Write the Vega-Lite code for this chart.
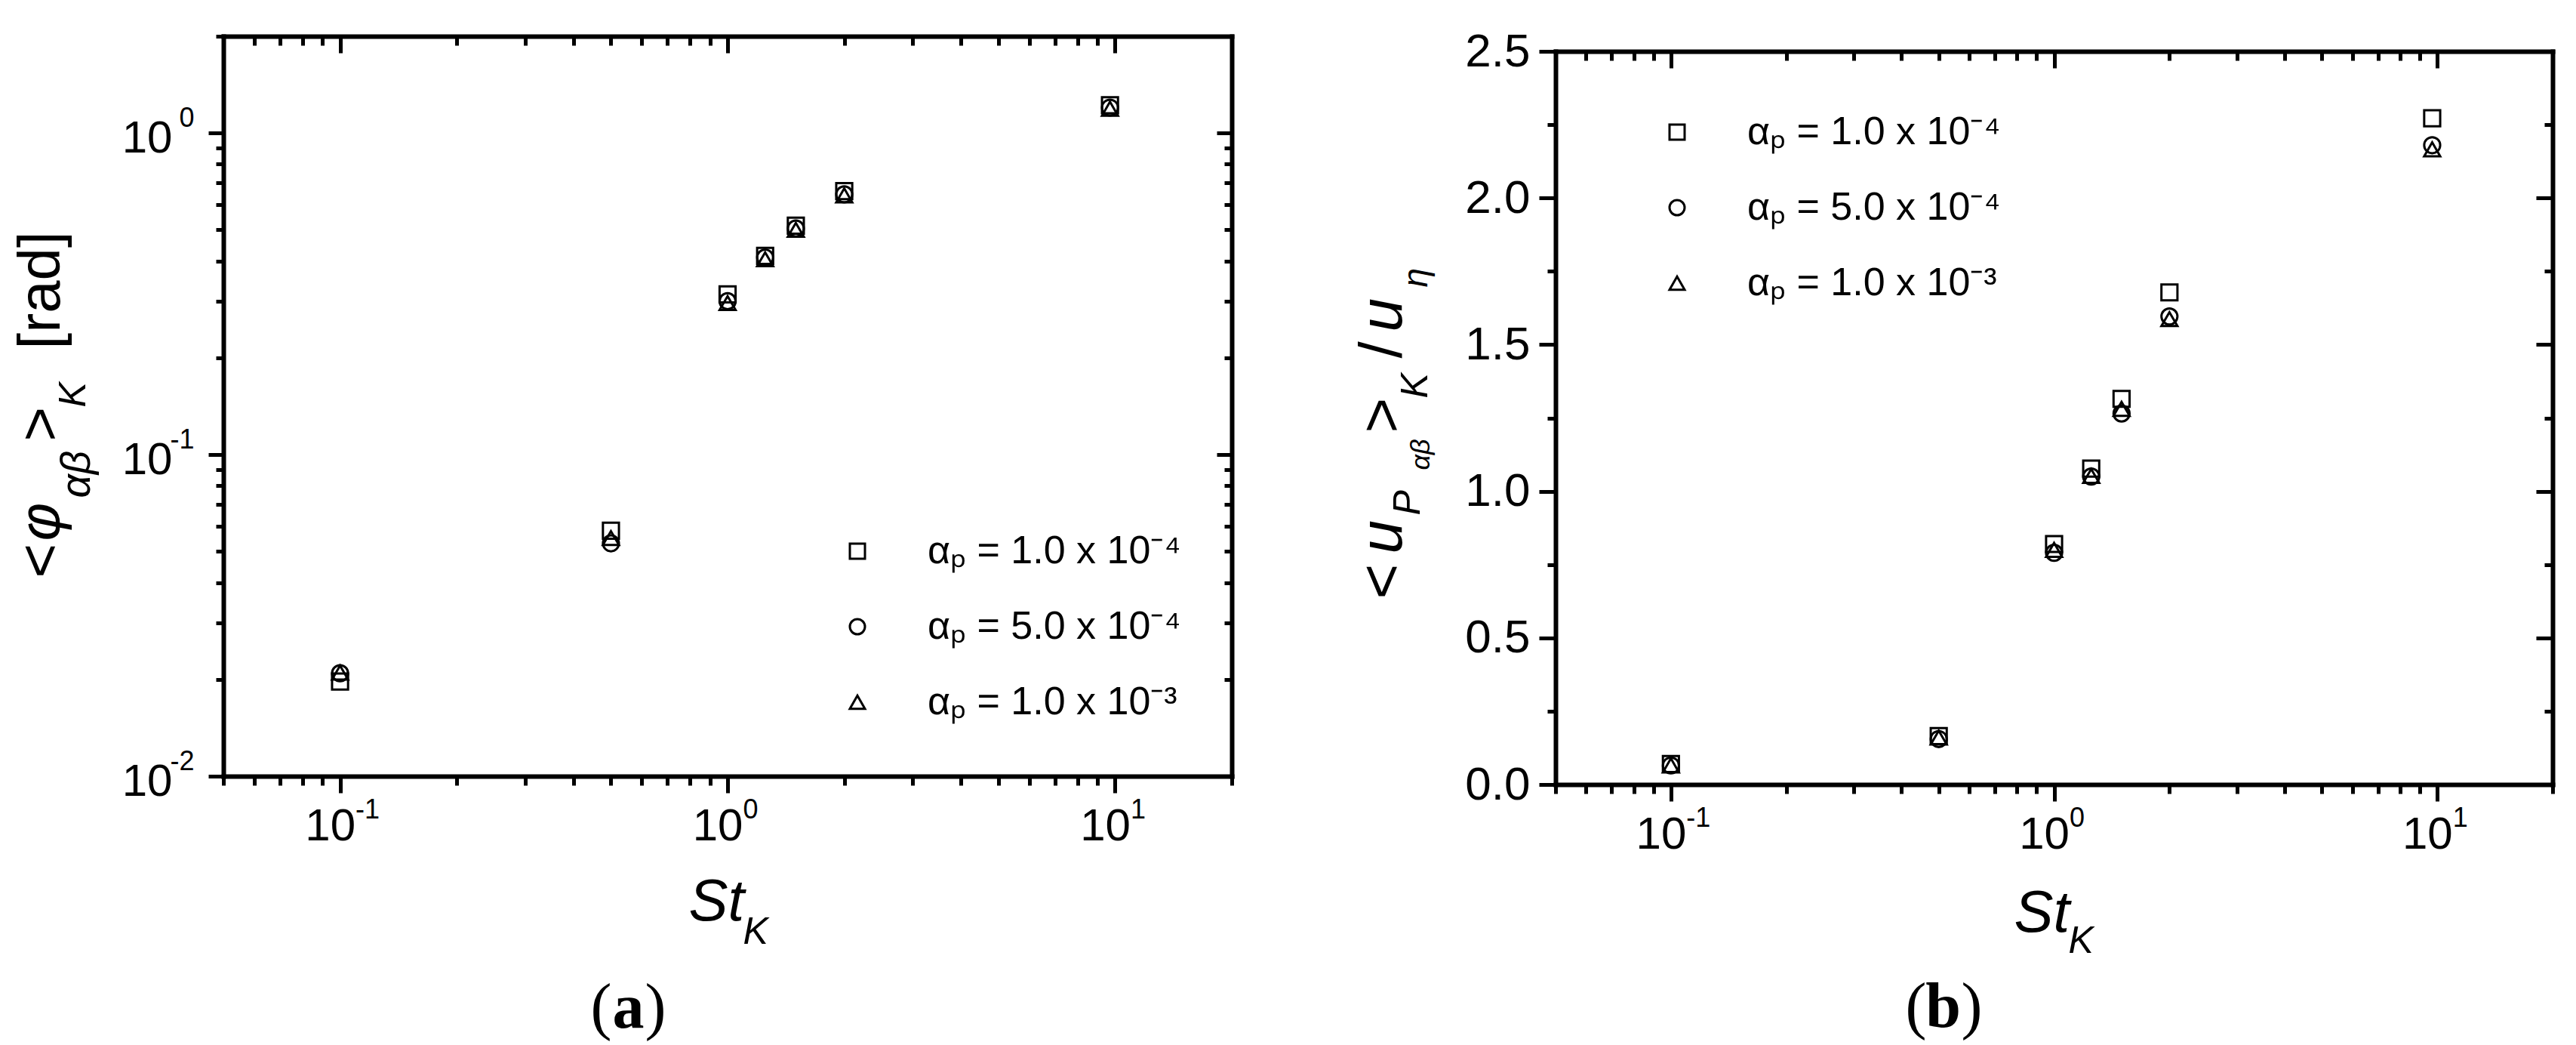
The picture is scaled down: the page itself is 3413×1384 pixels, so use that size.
{
  "$schema": "https://vega.github.io/schema/vega-lite/v6.json",
  "autosize": {"type": "pad"},
  "padding": {"left": 16, "top": 37, "right": 10, "bottom": 10},
  "background": "white",
  "config": {
    "view": {"stroke": null},
    "font": "Liberation Sans",
    "axis": {"grid": false, "domainColor": "#000", "domainWidth": 6, "domainCap": "square", "tickColor": "#000", "tickWidth": 5, "labelColor": "#000", "labelFont": "Liberation Sans", "titleColor": "#000", "titleFont": "Liberation Sans", "titleFontWeight": "normal", "labelFlush": false, "labelOverlap": false, "labelBound": false, "titlePadding": 0},
    "legend": {"labelFont": "Liberation Sans", "labelColor": "#000", "labelLimit": 1000}
  },
  "bounds": "flush",
  "spacing": 429,
  "resolve": {"scale": {"shape": "independent"}, "legend": {"shape": "independent"}},
  "hconcat": [
    {
      "width": 1336,
      "height": 980,
      "data": {"values": [
        {"St": 0.1, "v": 0.0197, "s": "1.0e-4"}, {"St": 0.1, "v": 0.0209, "s": "5.0e-4"}, {"St": 0.1, "v": 0.021, "s": "1.0e-3"},
        {"St": 0.5, "v": 0.058, "s": "1.0e-4"}, {"St": 0.5, "v": 0.053, "s": "5.0e-4"}, {"St": 0.5, "v": 0.055, "s": "1.0e-3"},
        {"St": 1.0, "v": 0.315, "s": "1.0e-4"}, {"St": 1.0, "v": 0.300, "s": "5.0e-4"}, {"St": 1.0, "v": 0.296, "s": "1.0e-3"},
        {"St": 1.25, "v": 0.415, "s": "1.0e-4"}, {"St": 1.25, "v": 0.410, "s": "5.0e-4"}, {"St": 1.25, "v": 0.405, "s": "1.0e-3"},
        {"St": 1.5, "v": 0.515, "s": "1.0e-4"}, {"St": 1.5, "v": 0.505, "s": "5.0e-4"}, {"St": 1.5, "v": 0.500, "s": "1.0e-3"},
        {"St": 2.0, "v": 0.660, "s": "1.0e-4"}, {"St": 2.0, "v": 0.645, "s": "5.0e-4"}, {"St": 2.0, "v": 0.640, "s": "1.0e-3"},
        {"St": 9.7, "v": 1.22, "s": "1.0e-4"}, {"St": 9.7, "v": 1.20, "s": "5.0e-4"}, {"St": 9.7, "v": 1.19, "s": "1.0e-3"}
      ]},
      "resolve": {"axis": {"x": "independent", "y": "independent"}},
      "layer": [
        {
          "mark": {"type": "point", "filled": false, "color": "black", "size": 450, "strokeWidth": 3, "opacity": 1},
          "encoding": {
            "x": {"field": "St", "type": "quantitative", "scale": {"type": "log", "domain": [0.05, 20], "nice": false},
              "axis": {"orient": "bottom", "values": [0.1, 1, 10], "tickSize": 22, "labelExpr": "'10'", "labelAlign": "right", "labelBaseline": "alphabetic", "labelOffset": 20, "labelPadding": 62, "labelFontSize": 60,
                "title": "St", "titleFontSize": 78, "titleFontStyle": "italic", "titleX": 616, "titleY": 190, "titleAlign": "left", "titleBaseline": "alphabetic", "titleAngle": 0}},
            "y": {"field": "v", "type": "quantitative", "scale": {"type": "log", "domain": [0.01, 2], "nice": false},
              "axis": {"orient": "left", "values": [0.01, 0.1, 1], "tickSize": 20, "labelExpr": "'10'", "labelAlign": "right", "labelBaseline": "alphabetic", "labelOffset": 25, "labelPadding": 48, "labelFontSize": 60,
                "title": "<", "titleFontSize": 78, "titleX": -218, "titleY": 717, "titleAngle": 270, "titleAlign": "left", "titleBaseline": "alphabetic"}},
            "shape": {"field": "s", "type": "nominal", "scale": {"domain": ["1.0e-4", "5.0e-4", "1.0e-3"], "range": ["square", "circle", "triangle-up"]},
              "legend": {"orient": "none", "legendX": 814, "legendY": 656, "title": null, "labelExpr": "datum.label == '1.0e-4' ? 'αₚ = 1.0 x 10⁻⁴' : datum.label == '5.0e-4' ? 'αₚ = 5.0 x 10⁻⁴' : 'αₚ = 1.0 x 10⁻³'", "labelFontSize": 52, "labelLimit": 1000, "symbolSize": 400, "symbolStrokeWidth": 3, "symbolStrokeColor": "black", "labelOffset": 67, "rowPadding": 48}}
          }
        },
        {
          "mark": {"type": "point", "opacity": 0},
          "encoding": {
            "x": {"field": "St", "type": "quantitative",
              "axis": {"orient": "bottom", "values": [0.1, 1, 10], "ticks": false, "domain": false, "labelExpr": "datum.value < 0.5 ? '-1' : datum.value < 5 ? '0' : '1'", "labelAlign": "left", "labelBaseline": "alphabetic", "labelOffset": 20, "labelPadding": 55, "labelFontSize": 36,
                "title": "K", "titleFontSize": 50, "titleFontStyle": "italic", "titleX": 688, "titleY": 221, "titleAlign": "left", "titleBaseline": "alphabetic", "titleAngle": 0}},
            "y": {"field": "v", "type": "quantitative",
              "axis": {"orient": "left", "values": [0.01, 0.1, 1], "ticks": false, "domain": false, "labelExpr": "datum.value < 0.05 ? '-2' : datum.value < 0.5 ? '-1' : '0'", "labelAlign": "right", "labelBaseline": "alphabetic", "labelOffset": -9, "labelPadding": 39, "labelFontSize": 36,
                "title": "φ", "titleFontSize": 78, "titleFontStyle": "italic", "titleX": -218, "titleY": 668, "titleAngle": 270, "titleAlign": "left", "titleBaseline": "alphabetic"}}
          }
        },
        {
          "mark": {"type": "point", "opacity": 0},
          "encoding": {
            "x": {"field": "St", "type": "quantitative",
              "axis": {"orient": "bottom", "values": [0.05, 0.06, 0.07, 0.08, 0.09, 0.2, 0.3, 0.4, 0.5, 0.6, 0.7, 0.8, 0.9, 2, 3, 4, 5, 6, 7, 8, 9, 20], "tickSize": 12, "labels": false, "domain": false,
                "title": "(", "titleFont": "Liberation Serif", "titleFontSize": 84, "titleX": 514, "titleY": 332, "titleAlign": "right", "titleBaseline": "alphabetic", "titleAngle": 0}},
            "y": {"field": "v", "type": "quantitative",
              "axis": {"orient": "left", "values": [0.02, 0.03, 0.04, 0.05, 0.06, 0.07, 0.08, 0.09, 0.2, 0.3, 0.4, 0.5, 0.6, 0.7, 0.8, 0.9, 2], "tickSize": 10, "labels": false, "domain": false,
                "title": "αβ", "titleFontSize": 55, "titleFontStyle": "italic", "titleX": -178, "titleY": 611, "titleAngle": 270, "titleAlign": "left", "titleBaseline": "alphabetic"}}
          }
        },
        {
          "mark": {"type": "point", "opacity": 0},
          "encoding": {
            "x": {"field": "St", "type": "quantitative",
              "axis": {"orient": "top", "values": [0.1, 1, 10], "tickSize": -22, "labels": false, "domain": true, "title": null}},
            "y": {"field": "v", "type": "quantitative",
              "axis": {"orient": "left", "domain": false, "ticks": false, "labels": false,
                "title": ">", "titleFontSize": 78, "titleX": -218, "titleY": 536, "titleAngle": 270, "titleAlign": "left", "titleBaseline": "alphabetic"}}
          }
        },
        {
          "mark": {"type": "point", "opacity": 0},
          "encoding": {
            "x": {"field": "St", "type": "quantitative",
              "axis": {"orient": "top", "values": [0.05, 0.06, 0.07, 0.08, 0.09, 0.2, 0.3, 0.4, 0.5, 0.6, 0.7, 0.8, 0.9, 2, 3, 4, 5, 6, 7, 8, 9, 20], "tickSize": -12, "labels": false, "domain": false, "title": null}},
            "y": {"field": "v", "type": "quantitative",
              "axis": {"orient": "left", "domain": false, "ticks": false, "labels": false,
                "title": "K", "titleFontSize": 50, "titleFontStyle": "italic", "titleX": -184, "titleY": 491, "titleAngle": 270, "titleAlign": "left", "titleBaseline": "alphabetic"}}
          }
        },
        {
          "mark": {"type": "point", "opacity": 0},
          "encoding": {
            "x": {"field": "St", "type": "quantitative",
              "axis": {"orient": "bottom", "domain": false, "ticks": false, "labels": false,
                "title": "a", "titleFont": "Liberation Serif", "titleFontWeight": "bold", "titleFontSize": 84, "titleX": 536, "titleY": 332, "titleAlign": "center", "titleBaseline": "alphabetic", "titleAngle": 0}},
            "y": {"field": "v", "type": "quantitative",
              "axis": {"orient": "left", "domain": false, "ticks": false, "labels": false,
                "title": "[rad]", "titleFontSize": 78, "titleX": -218, "titleY": 414, "titleAngle": 270, "titleAlign": "left", "titleBaseline": "alphabetic"}}
          }
        },
        {
          "mark": {"type": "point", "opacity": 0},
          "encoding": {
            "x": {"field": "St", "type": "quantitative",
              "axis": {"orient": "bottom", "domain": false, "ticks": false, "labels": false,
                "title": ")", "titleFont": "Liberation Serif", "titleFontSize": 84, "titleX": 558, "titleY": 332, "titleAlign": "left", "titleBaseline": "alphabetic", "titleAngle": 0}},
            "y": {"field": "v", "type": "quantitative",
              "axis": {"orient": "right", "values": [0.01, 0.1, 1], "tickSize": -20, "labels": false, "domain": true, "title": null}}
          }
        },
        {
          "mark": {"type": "point", "opacity": 0},
          "encoding": {
            "x": {"field": "St", "type": "quantitative", "axis": null},
            "y": {"field": "v", "type": "quantitative",
              "axis": {"orient": "right", "values": [0.02, 0.03, 0.04, 0.05, 0.06, 0.07, 0.08, 0.09, 0.2, 0.3, 0.4, 0.5, 0.6, 0.7, 0.8, 0.9, 2], "tickSize": -10, "labels": false, "domain": false, "title": null}}
          }
        }
      ]
    },
    {
      "spacing": 0,
      "bounds": "flush",
      "vconcat": [
        {
          "width": 1321,
          "height": 20,
          "data": {"values": [{"k": 0}]},
          "mark": {"type": "point", "opacity": 0}
        },
        {
          "width": 1321,
          "height": 971,
          "data": {"values": [
            {"St": 0.1, "v": 0.070, "s": "1.0e-4"}, {"St": 0.1, "v": 0.065, "s": "5.0e-4"}, {"St": 0.1, "v": 0.065, "s": "1.0e-3"},
            {"St": 0.5, "v": 0.165, "s": "1.0e-4"}, {"St": 0.5, "v": 0.155, "s": "5.0e-4"}, {"St": 0.5, "v": 0.160, "s": "1.0e-3"},
            {"St": 1.0, "v": 0.820, "s": "1.0e-4"}, {"St": 1.0, "v": 0.790, "s": "5.0e-4"}, {"St": 1.0, "v": 0.800, "s": "1.0e-3"},
            {"St": 1.25, "v": 1.077, "s": "1.0e-4"}, {"St": 1.25, "v": 1.050, "s": "5.0e-4"}, {"St": 1.25, "v": 1.052, "s": "1.0e-3"},
            {"St": 1.5, "v": 1.315, "s": "1.0e-4"}, {"St": 1.5, "v": 1.265, "s": "5.0e-4"}, {"St": 1.5, "v": 1.281, "s": "1.0e-3"},
            {"St": 2.0, "v": 1.678, "s": "1.0e-4"}, {"St": 2.0, "v": 1.596, "s": "5.0e-4"}, {"St": 2.0, "v": 1.587, "s": "1.0e-3"},
            {"St": 9.7, "v": 2.272, "s": "1.0e-4"}, {"St": 9.7, "v": 2.180, "s": "5.0e-4"}, {"St": 9.7, "v": 2.166, "s": "1.0e-3"}
          ]},
          "resolve": {"axis": {"x": "independent", "y": "independent"}},
          "layer": [
            {
              "mark": {"type": "point", "filled": false, "color": "black", "size": 450, "strokeWidth": 3, "opacity": 1},
              "encoding": {
                "x": {"field": "St", "type": "quantitative", "scale": {"type": "log", "domain": [0.05, 20], "nice": false},
                  "axis": {"orient": "bottom", "values": [0.1, 1, 10], "tickSize": 22, "labelExpr": "'10'", "labelAlign": "right", "labelBaseline": "alphabetic", "labelOffset": 20, "labelPadding": 62, "labelFontSize": 60,
                    "title": "St", "titleFontSize": 78, "titleFontStyle": "italic", "titleX": 607, "titleY": 194, "titleAlign": "left", "titleBaseline": "alphabetic", "titleAngle": 0}},
                "y": {"field": "v", "type": "quantitative", "scale": {"type": "linear", "domain": [0, 2.5], "nice": false, "zero": false},
                  "axis": {"orient": "left", "values": [0, 0.5, 1, 1.5, 2, 2.5], "format": ".1f", "tickSize": 22, "labelAlign": "right", "labelBaseline": "middle", "labelPadding": 12, "labelFontSize": 62,
                    "title": "<", "titleFontSize": 80, "titleX": -205, "titleY": 725, "titleAngle": 270, "titleAlign": "left", "titleBaseline": "alphabetic"}},
                "shape": {"field": "s", "type": "nominal", "scale": {"domain": ["1.0e-4", "5.0e-4", "1.0e-3"], "range": ["square", "circle", "triangle-up"]},
                  "legend": {"orient": "none", "legendX": 135, "legendY": 101, "title": null, "labelExpr": "datum.label == '1.0e-4' ? 'αₚ = 1.0 x 10⁻⁴' : datum.label == '5.0e-4' ? 'αₚ = 5.0 x 10⁻⁴' : 'αₚ = 1.0 x 10⁻³'", "labelFontSize": 52, "labelLimit": 1000, "symbolSize": 400, "symbolStrokeWidth": 3, "symbolStrokeColor": "black", "labelOffset": 67, "rowPadding": 48}}
              }
            },
            {
              "mark": {"type": "point", "opacity": 0},
              "encoding": {
                "x": {"field": "St", "type": "quantitative",
                  "axis": {"orient": "bottom", "values": [0.1, 1, 10], "ticks": false, "domain": false, "labelExpr": "datum.value < 0.5 ? '-1' : datum.value < 5 ? '0' : '1'", "labelAlign": "left", "labelBaseline": "alphabetic", "labelOffset": 20, "labelPadding": 55, "labelFontSize": 36,
                    "title": "K", "titleFontSize": 50, "titleFontStyle": "italic", "titleX": 679, "titleY": 222, "titleAlign": "left", "titleBaseline": "alphabetic", "titleAngle": 0}},
                "y": {"field": "v", "type": "quantitative",
                  "axis": {"orient": "left", "values": [0.25, 0.75, 1.25, 1.75, 2.25], "tickSize": 11, "labels": false, "domain": false,
                    "title": "u", "titleFontSize": 80, "titleFontStyle": "italic", "titleX": -205, "titleY": 665, "titleAngle": 270, "titleAlign": "left", "titleBaseline": "alphabetic"}}
              }
            },
            {
              "mark": {"type": "point", "opacity": 0},
              "encoding": {
                "x": {"field": "St", "type": "quantitative",
                  "axis": {"orient": "bottom", "values": [0.05, 0.06, 0.07, 0.08, 0.09, 0.2, 0.3, 0.4, 0.5, 0.6, 0.7, 0.8, 0.9, 2, 3, 4, 5, 6, 7, 8, 9, 20], "tickSize": 12, "labels": false, "domain": false,
                    "title": "(", "titleFont": "Liberation Serif", "titleFontSize": 84, "titleX": 491, "titleY": 320, "titleAlign": "right", "titleBaseline": "alphabetic", "titleAngle": 0}},
                "y": {"field": "v", "type": "quantitative",
                  "axis": {"orient": "left", "domain": false, "ticks": false, "labels": false,
                    "title": "P", "titleFontSize": 50, "titleFontStyle": "italic", "titleX": -181, "titleY": 614, "titleAngle": 270, "titleAlign": "left", "titleBaseline": "alphabetic"}}
              }
            },
            {
              "mark": {"type": "point", "opacity": 0},
              "encoding": {
                "x": {"field": "St", "type": "quantitative",
                  "axis": {"orient": "top", "values": [0.1, 1, 10], "tickSize": -22, "labels": false, "domain": true, "title": null}},
                "y": {"field": "v", "type": "quantitative",
                  "axis": {"orient": "left", "domain": false, "ticks": false, "labels": false,
                    "title": "αβ", "titleFontSize": 36, "titleFontStyle": "italic", "titleX": -168, "titleY": 554, "titleAngle": 270, "titleAlign": "left", "titleBaseline": "alphabetic"}}
              }
            },
            {
              "mark": {"type": "point", "opacity": 0},
              "encoding": {
                "x": {"field": "St", "type": "quantitative",
                  "axis": {"orient": "top", "values": [0.05, 0.06, 0.07, 0.08, 0.09, 0.2, 0.3, 0.4, 0.5, 0.6, 0.7, 0.8, 0.9, 2, 3, 4, 5, 6, 7, 8, 9, 20], "tickSize": -12, "labels": false, "domain": false, "title": null}},
                "y": {"field": "v", "type": "quantitative",
                  "axis": {"orient": "left", "domain": false, "ticks": false, "labels": false,
                    "title": ">", "titleFontSize": 80, "titleX": -205, "titleY": 505, "titleAngle": 270, "titleAlign": "left", "titleBaseline": "alphabetic"}}
              }
            },
            {
              "mark": {"type": "point", "opacity": 0},
              "encoding": {
                "x": {"field": "St", "type": "quantitative",
                  "axis": {"orient": "bottom", "domain": false, "ticks": false, "labels": false,
                    "title": "b", "titleFont": "Liberation Serif", "titleFontWeight": "bold", "titleFontSize": 84, "titleX": 513, "titleY": 320, "titleAlign": "center", "titleBaseline": "alphabetic", "titleAngle": 0}},
                "y": {"field": "v", "type": "quantitative",
                  "axis": {"orient": "left", "domain": false, "ticks": false, "labels": false,
                    "title": "K", "titleFontSize": 50, "titleFontStyle": "italic", "titleX": -171, "titleY": 459, "titleAngle": 270, "titleAlign": "left", "titleBaseline": "alphabetic"}}
              }
            },
            {
              "mark": {"type": "point", "opacity": 0},
              "encoding": {
                "x": {"field": "St", "type": "quantitative",
                  "axis": {"orient": "bottom", "domain": false, "ticks": false, "labels": false,
                    "title": ")", "titleFont": "Liberation Serif", "titleFontSize": 84, "titleX": 537, "titleY": 320, "titleAlign": "left", "titleBaseline": "alphabetic", "titleAngle": 0}},
                "y": {"field": "v", "type": "quantitative",
                  "axis": {"orient": "left", "domain": false, "ticks": false, "labels": false,
                    "title": "/", "titleFontSize": 80, "titleX": -205, "titleY": 406, "titleAngle": 270, "titleAlign": "left", "titleBaseline": "alphabetic"}}
              }
            },
            {
              "mark": {"type": "point", "opacity": 0},
              "encoding": {
                "x": {"field": "St", "type": "quantitative", "axis": null},
                "y": {"field": "v", "type": "quantitative",
                  "axis": {"orient": "left", "domain": false, "ticks": false, "labels": false,
                    "title": "u", "titleFontSize": 80, "titleFontStyle": "italic", "titleX": -205, "titleY": 371, "titleAngle": 270, "titleAlign": "left", "titleBaseline": "alphabetic"}}
              }
            },
            {
              "mark": {"type": "point", "opacity": 0},
              "encoding": {
                "x": {"field": "St", "type": "quantitative", "axis": null},
                "y": {"field": "v", "type": "quantitative",
                  "axis": {"orient": "left", "domain": false, "ticks": false, "labels": false,
                    "title": "η", "titleFontSize": 46, "titleFontStyle": "italic", "titleX": -171, "titleY": 312, "titleAngle": 270, "titleAlign": "left", "titleBaseline": "alphabetic"}}
              }
            },
            {
              "mark": {"type": "point", "opacity": 0},
              "encoding": {
                "x": {"field": "St", "type": "quantitative", "axis": null},
                "y": {"field": "v", "type": "quantitative",
                  "axis": {"orient": "right", "values": [0, 0.5, 1, 1.5, 2, 2.5], "tickSize": -22, "labels": false, "domain": true, "title": null}}
              }
            },
            {
              "mark": {"type": "point", "opacity": 0},
              "encoding": {
                "x": {"field": "St", "type": "quantitative", "axis": null},
                "y": {"field": "v", "type": "quantitative",
                  "axis": {"orient": "right", "values": [0.25, 0.75, 1.25, 1.75, 2.25], "tickSize": -11, "labels": false, "domain": false, "title": null}}
              }
            }
          ]
        }
      ]
    }
  ]
}
